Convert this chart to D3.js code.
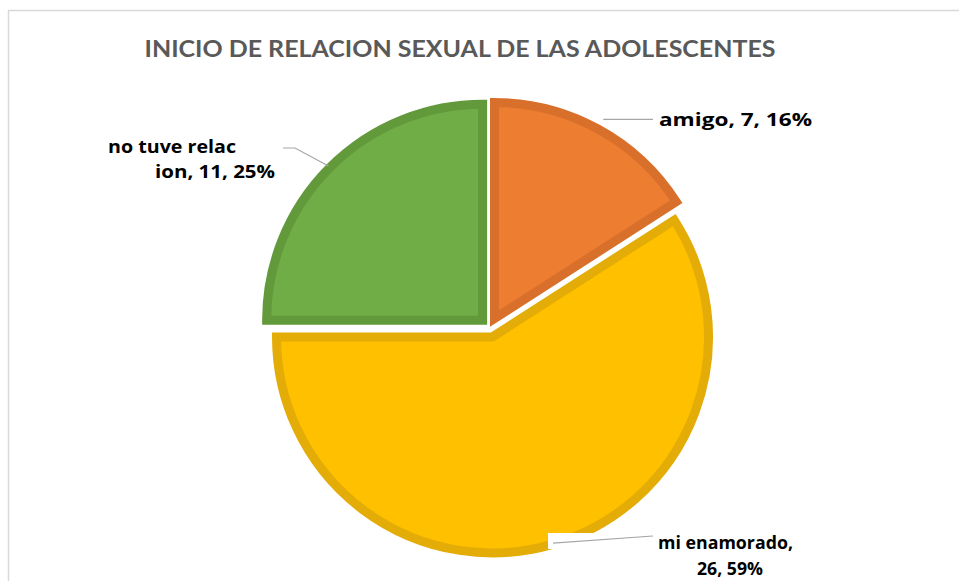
<!DOCTYPE html>
<html>
<head>
<meta charset="utf-8">
<script src="https://cdn.jsdelivr.net/npm/d3@7"></script>
<style>
  html, body { margin: 0; padding: 0; background: #fff; }
  svg { display: block; }
</style>
</head>
<body>
<svg id="chart" width="959" height="581"></svg>
<script>
// ---- data ----
const categories = ["amigo", "mi enamorado", "no tuve relacion"];
const values = [7, 26, 11];
const percents = ["16%", "59%", "25%"];
const labelLines = [
  ["amigo, 7, 16%"],
  ["mi enamorado,", "26, 59%"],
  ["no tuve relac", "ion, 11, 25%"]
];
const title = "INICIO DE RELACION SEXUAL DE LAS ADOLESCENTES";

// ---- styles ----
const fills = ["#ED7D31", "#FFC000", "#70AD47"];
const strokes = ["#D8702B", "#E4AC06", "#62993B"];

const svg = d3.select("#chart");
const W = 959, H = 581;

// frame
svg.append("path")
  .attr("d", `M8.5,${H} L8.5,10.5 L${W},10.5`)
  .attr("fill", "none").attr("stroke", "#D9D9D9").attr("stroke-width", 1.5);

// title
svg.append("text")
  .attr("x", 460).attr("y", 57)
  .attr("text-anchor", "middle")
  .attr("font-family", "Lato, 'Open Sans', sans-serif")
  .attr("font-weight", 700)
  .attr("font-size", 23.5)
  .attr("fill", "#595959")
  .attr("textLength", 631)
  .attr("lengthAdjust", "spacingAndGlyphs")
  .text(title);

const cx = 489.7, cy = 327.3, R = 216, explode = 10;

const pie = d3.pie().sort(null).value(d => d)(values);
const arc = d3.arc().innerRadius(0).outerRadius(R);

const g = svg.append("g").attr("transform", `translate(${cx},${cy})`);

function dir(a) { return [Math.sin(a), -Math.cos(a)]; }

g.selectAll("path.slice")
  .data(pie)
  .enter().append("path")
  .attr("class", "slice")
  .attr("transform", d => {
    const m = (d.startAngle + d.endAngle) / 2;
    const [ux, uy] = dir(m);
    return `translate(${ux * explode},${uy * explode})`;
  })
  .attr("d", arc)
  .attr("fill", (d, i) => fills[i])
  .attr("stroke", (d, i) => strokes[i])
  .attr("stroke-width", 9)
  .attr("stroke-linejoin", "miter");

// ---- labels (layout) ----
const font = "'Open Sans', Lato, sans-serif";
const fs = 18.5;
const lineColor = "#A6A6A6";

function label(x, y, t, len, anchor) {
  g.append("text")
    .attr("x", x - cx).attr("y", y - cy)
    .attr("text-anchor", anchor || "start")
    .attr("font-family", font).attr("font-weight", 700).attr("font-size", fs)
    .attr("fill", "#000")
    .attr("textLength", len)
    .attr("lengthAdjust", "spacingAndGlyphs")
    .text(t);
}

pie.forEach((d, i) => {
  const m = (d.startAngle + d.endAngle) / 2;
  const [ux, uy] = dir(m);
  if (i === 0) {
    const r0 = 237;
    const p0 = [ux * r0, uy * r0];
    g.append("path")
      .attr("d", `M${p0[0]},${p0[1]} L${653 - cx},${p0[1]}`)
      .attr("stroke", lineColor).attr("fill", "none").attr("stroke-width", 1.2);
    label(659, cy + p0[1] + 7, labelLines[i][0], 153);
  } else if (i === 1) {
    const r0 = 225;
    const p0 = [ux * r0, uy * r0];
    // label background box
    g.append("rect")
      .attr("x", 548 - cx).attr("y", 533 - cy)
      .attr("width", 108).attr("height", 16)
      .attr("fill", "#fff");
    g.append("path")
      .attr("d", `M${p0[0]},${p0[1]} L${653 - cx},${536 - cy}`)
      .attr("stroke", lineColor).attr("fill", "none").attr("stroke-width", 1.2);
    label(658, 549, labelLines[i][0], 135);
    label(697, 575, labelLines[i][1], 66);
  } else {
    const r0 = 228;
    const p0 = [ux * r0, uy * r0];
    g.append("path")
      .attr("d", `M${p0[0]},${p0[1]} L${295 - cx},${148 - cy} L${283 - cx},${148 - cy}`)
      .attr("stroke", lineColor).attr("fill", "none").attr("stroke-width", 1.2);
    label(108, 153, labelLines[i][0], 128);
    label(155, 178, labelLines[i][1], 120);
  }
});
</script>
</body>
</html>
